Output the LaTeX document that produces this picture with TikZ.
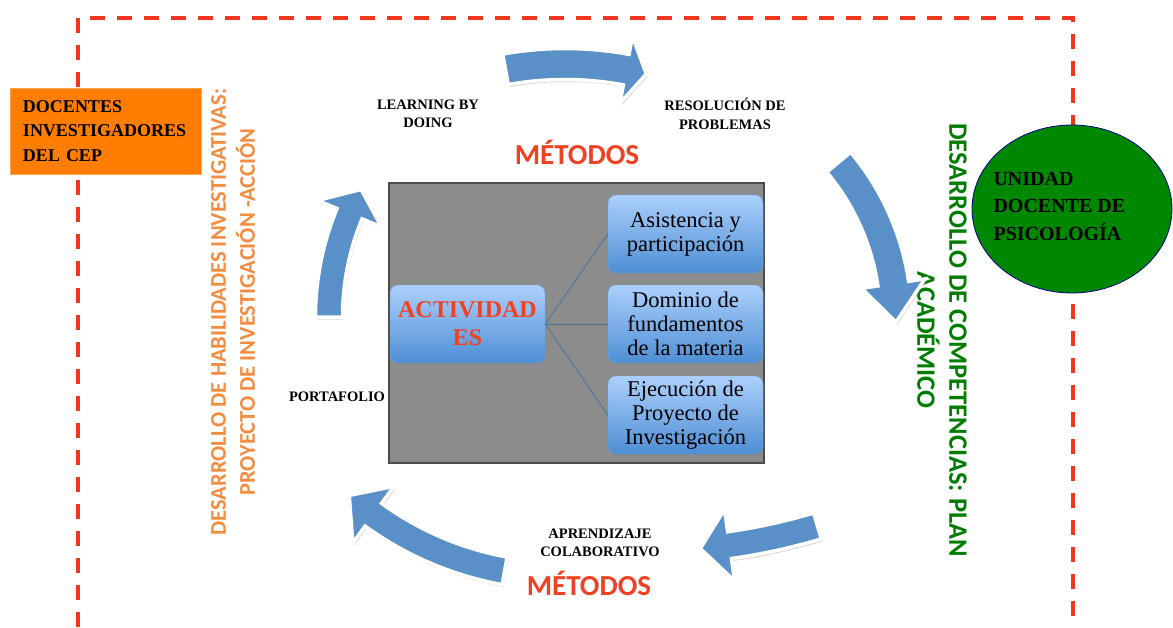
\documentclass[tikz,border=0pt]{standalone}
\usepackage{fontspec}
\setmainfont{Liberation Serif}
\newfontfamily\calibri{Carlito}
\usetikzlibrary{calc,shapes.geometric,shadows}

\definecolor{framered}{RGB}{240,55,30}
\definecolor{boxorange}{RGB}{255,125,0}
\definecolor{txtorange}{RGB}{242,140,64}
\definecolor{txtgreen}{RGB}{0,125,0}
\definecolor{unitgreen}{RGB}{0,135,0}
\definecolor{arrowblue}{RGB}{88,144,199}
\definecolor{metred}{RGB}{240,65,35}
\definecolor{panelgray}{RGB}{140,140,140}
\definecolor{boxtop}{RGB}{172,208,252}
\definecolor{boxbot}{RGB}{78,142,212}

% curved block arrow: centre, radius, body half width, head half width,
% start angle, head base angle, tip angle (y axis points down)
\newcommand{\blockarrow}[7]{%
  \path[blockarrow] ($(#1)+({#5}:{#2+#3})$) arc[start angle=#5, end angle=#6, radius={#2+#3}]
    -- ($(#1)+({#6}:{#2+#4})$) -- ($(#1)+({#7}:{#2})$) -- ($(#1)+({#6}:{#2-#4})$)
    -- ($(#1)+({#6}:{#2-#3})$) arc[start angle=#6, end angle=#5, radius={#2-#3}] -- cycle;}

\begin{document}
\begin{tikzpicture}[x=1pt,y=-1pt,
  frame/.style={draw=framered,line width=4pt,dash pattern=on 15pt off 12pt},
  blockarrow/.style={fill=arrowblue,draw=white,line width=3.5pt,line join=miter,
    drop shadow={shadow xshift=1.5pt,shadow yshift=-2.5pt,opacity=.3}},
  bluebox/.style={rectangle,rounded corners=8pt,top color=boxtop,bottom color=boxbot,
    draw=boxbot!80!white,minimum width=155pt,minimum height=78pt,align=center,
    drop shadow={shadow xshift=1pt,shadow yshift=-1.5pt,opacity=.3}},
  item/.style={bluebox,font={\fontsize{22.5}{24}\selectfont}},
  method/.style={font={\fontsize{14.5}{18.5}\selectfont\bfseries},align=center},
  metodos/.style={font={\calibri\fontsize{29}{32}\selectfont\bfseries},text=metred},
  link/.style={draw=arrowblue!80!black,line width=0.8pt}]
\useasboundingbox (0,0) rectangle (1173,627);

% dashed frame
\draw[frame] (78,627) -- (78,18) -- (1073,18) -- (1073,627);

% side boxes
\node[rectangle,fill=boxorange,draw=boxorange!70!white,minimum width=191pt,minimum height=86pt,
  text width=165pt,inner xsep=13pt,align=left,font={\fontsize{18}{24.5}\selectfont\bfseries}]
  (docentes) at (105.5,131) {DOCENTES\\INVESTIGADORES\\DEL CEP};
\node[ellipse,fill=unitgreen,draw=blue!55!black,line width=0.8pt,minimum width=200pt,
  minimum height=168pt] (unidad) at (1072,209) {};
\node[anchor=west,align=left,font={\fontsize{20}{27.5}\selectfont\bfseries}]
  (unidadtxt) at (990,206) {UNIDAD\\DOCENTE DE\\PSICOLOGÍA};

% vertical titles
\node[rotate=90,align=center,text=txtorange,font={\calibri\fontsize{22.5}{29}\selectfont\bfseries}]
  (habilidades) at (233,312) {DESARROLLO DE HABILIDADES INVESTIGATIVAS:\\PROYECTO DE INVESTIGACIÓN -ACCIÓN};
\node[rotate=-90,align=center,text=txtgreen,font={\calibri\fontsize{26.5}{32}\selectfont\bfseries}]
  (competencias) at (942,340) {DESARROLLO DE COMPETENCIAS: PLAN\\ACADÉMICO};

% central panel
\node[rectangle,fill=panelgray,draw=black!70,line width=1.5pt,minimum width=375pt,
  minimum height=280pt] (panel) at (576.5,323) {};
\node[bluebox,text=metred,font={\fontsize{24}{28}\selectfont\bfseries}]
  (actividades) at (467.5,324) {ACTIVIDAD\\ES};
\node[item] (asistencia) at (685.5,234) {Asistencia y\\participación};
\node[item] (dominio) at (685.5,324) {Dominio de\\fundamentos\\de la materia};
\node[item] (ejecucion) at (685.5,415) {Ejecución de\\Proyecto de\\Investigación};
\draw[link] (actividades.east) -- (asistencia.west);
\draw[link] (actividades.east) -- (dominio.west);
\draw[link] (actividades.east) -- (ejecucion.west);

% cycle of arrows
\blockarrow{565,400}{336}{15.5}{34}{-100.2}{-79.5}{-76}
\blockarrow{650,320}{246}{15.5}{32}{-39.9}{-8.5}{0.5}
\blockarrow{646,-49}{600}{13.5}{36}{73.4}{82}{84.8}
\blockarrow{562,255}{321}{14}{35}{100.3}{126}{131.5}
\blockarrow{599,317}{270}{13.5}{34.5}{180}{202.5}{208.2}

% methods
\node[method] (learning) at (428,114) {LEARNING BY\\DOING};
\node[method] (resolucion) at (725,114) {RESOLUCIÓN DE\\PROBLEMAS};
\node[metodos] (metodosa) at (577,152) {MÉTODOS};
\node[method] (portafolio) at (337,397) {PORTAFOLIO};
\node[method] (aprendizaje) at (600,543) {APRENDIZAJE\\COLABORATIVO};
\node[metodos] (metodosb) at (589,583) {MÉTODOS};
\end{tikzpicture}
\end{document}
